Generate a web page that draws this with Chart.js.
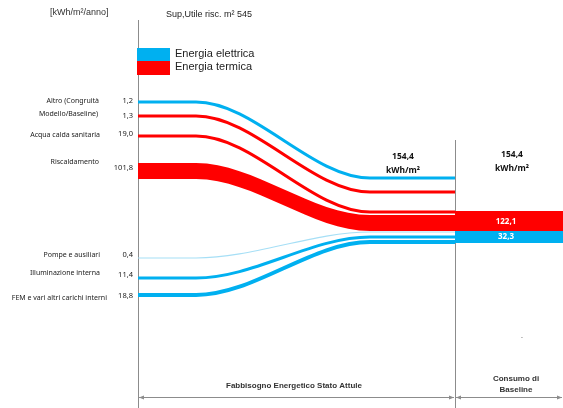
<!DOCTYPE html>
<html>
<head>
    <script src="https://cdn.jsdelivr.net/npm/chart.js"></script>
    <style>
        body { margin: 0; background: #fff; }
        #wrap { width: 563px; height: 408px; position: relative; }
    </style>
</head>
<body>
<div id="wrap"><canvas id="myChart" width="563" height="408"></canvas></div>
<script>
// flussi (kWh/m²/anno)
const flowNames = ['Altro (Congruità', 'Modello/Baseline)', 'Acqua calda sanitaria', 'Riscaldamento',
                   'Pompe e ausiliari', 'Illuminazione interna', 'FEM e vari altri carichi interni'];
const flowValues = [1.2, 1.3, 19.0, 101.8, 0.4, 11.4, 18.8];
const flowType = ['el', 'th', 'th', 'th', 'el', 'el', 'el'];
const totalStato = 154.4;
const baselineValues = [122.1, 32.3]; // termica, elettrica
const baselineTotal = 154.4;
const surface = 545;

// layout del diagramma (coordinate nella scala del grafico)
const xStops = [138, 196, 370, 455];
const flowStartY = [102, 116, 136, 163, 258, 278, 295];
const flowEndY   = [178, 192, 212, 215, 232, 237, 242];
const flowLineW  = [3, 3, 3, 0, 1.2, 3, 4];
const heatBottom = [179, 231];
const blockX = [455, 563];
const blockY = [211, 231, 243];

const BLUE = '#00b0f0';
const RED = '#ff0000';
const LIGHT = '#a6dff6';
const GREY = '#8c8c8c';

function fmt(v) { return v.toFixed(1).replace('.', ','); }

function curve(y0, y1) {
    return [
        { x: xStops[0], y: y0 }, { x: xStops[1], y: y0 },
        { x: xStops[2], y: y1 }, { x: xStops[3], y: y1 }
    ];
}

const datasets = [];
flowNames.forEach((n, i) => {
    if (i === 3) return;
    let col = flowType[i] === 'el' ? BLUE : RED;
    if (i === 4) col = LIGHT;
    datasets.push({
        data: curve(flowStartY[i], flowEndY[i]),
        borderColor: col,
        borderWidth: flowLineW[i],
        fill: false
    });
});
// riscaldamento come banda piena
datasets.push({ data: curve(flowStartY[3], flowEndY[3]), borderWidth: 0, borderColor: RED, fill: false });
datasets.push({ data: curve(heatBottom[0], heatBottom[1]), borderWidth: 0, borderColor: RED, backgroundColor: RED, fill: '-1' });
// consumo di baseline
datasets.push({ data: [{ x: blockX[0], y: blockY[0] }, { x: blockX[1], y: blockY[0] }], borderWidth: 0, cubicInterpolationMode: 'default', fill: false });
datasets.push({ data: [{ x: blockX[0], y: blockY[1] }, { x: blockX[1], y: blockY[1] }], borderWidth: 0, cubicInterpolationMode: 'default', backgroundColor: RED, fill: '-1' });
datasets.push({ data: [{ x: blockX[0], y: blockY[2] }, { x: blockX[1], y: blockY[2] }], borderWidth: 0, cubicInterpolationMode: 'default', backgroundColor: BLUE, fill: '-1' });

function text(ctx, s, x, y, font, color, align) {
    ctx.font = font;
    ctx.fillStyle = color;
    ctx.textAlign = align || 'left';
    ctx.textBaseline = 'middle';
    ctx.fillText(s, x, y);
}

function arrow(ctx, x1, x2, y) {
    ctx.beginPath();
    ctx.moveTo(x1, y); ctx.lineTo(x2, y); ctx.stroke();
    [[x1, 1], [x2, -1]].forEach(([x, d]) => {
        ctx.beginPath();
        ctx.moveTo(x, y);
        ctx.lineTo(x + 5 * d, y - 2);
        ctx.lineTo(x + 5 * d, y + 2);
        ctx.closePath();
        ctx.fill();
    });
}

const decor = {
    id: 'decor',
    beforeDatasetsDraw(chart) {
        const ctx = chart.ctx;
        const sx = chart.scales.x, sy = chart.scales.y;
        ctx.save();
        ctx.strokeStyle = GREY;
        ctx.lineWidth = 1;
        ctx.beginPath();
        ctx.moveTo(sx.getPixelForValue(xStops[0]) + 0.5, sy.getPixelForValue(20));
        ctx.lineTo(sx.getPixelForValue(xStops[0]) + 0.5, sy.getPixelForValue(408));
        ctx.moveTo(sx.getPixelForValue(blockX[0]) + 0.5, sy.getPixelForValue(140));
        ctx.lineTo(sx.getPixelForValue(blockX[0]) + 0.5, sy.getPixelForValue(408));
        ctx.stroke();
        ctx.restore();
    },
    afterDatasetsDraw(chart) {
        const ctx = chart.ctx;
        ctx.save();
        // intestazioni
        text(ctx, '[kWh/m²/anno]', 50, 13, '9px "Liberation Sans"', '#333');
        text(ctx, 'Sup,Utile risc. m² ' + surface, 166, 15, '9px "Liberation Sans"', '#222');
        // legenda
        ctx.fillStyle = BLUE; ctx.fillRect(137, 48, 33, 13);
        ctx.fillStyle = RED; ctx.fillRect(137, 61, 33, 14);
        text(ctx, 'Energia elettrica', 175, 54, '11px "Liberation Sans"', '#222');
        text(ctx, 'Energia termica', 175, 67, '11px "Liberation Sans"', '#222');
        // etichette flussi
        const lf = '7px "Noto Sans"';
        text(ctx, flowNames[0], 99, 101, lf, '#222', 'right');
        text(ctx, flowNames[1], 98, 114, lf, '#222', 'right');
        text(ctx, flowNames[2], 100, 135, lf, '#222', 'right');
        text(ctx, flowNames[3], 99, 162, lf, '#222', 'right');
        text(ctx, flowNames[4], 100, 255, lf, '#222', 'right');
        text(ctx, flowNames[5], 100, 273, lf, '#222', 'right');
        text(ctx, flowNames[6], 107, 298, lf, '#222', 'right');
        const vf = '7.5px "Noto Sans"';
        const vy = [101, 116, 134, 168, 255, 275, 296];
        flowValues.forEach((v, i) => text(ctx, fmt(v), 133, vy[i], vf, '#222', 'right'));
        // totali
        const bf = 'bold 8.5px "Noto Sans"';
        text(ctx, fmt(totalStato), 403, 157, bf, '#111', 'center');
        text(ctx, 'kWh/m²', 403, 171, bf, '#111', 'center');
        text(ctx, fmt(baselineTotal), 512, 155, bf, '#111', 'center');
        text(ctx, 'kWh/m²', 512, 169, bf, '#111', 'center');
        text(ctx, fmt(baselineValues[0]), 506, 222, 'bold 8px "Noto Sans"', '#fff', 'center');
        text(ctx, fmt(baselineValues[1]), 506, 237, 'bold 8px "Noto Sans"', '#fff', 'center');
        text(ctx, '-', 522, 337, '7px "Liberation Sans"', '#777', 'center');
        // asse inferiore
        ctx.strokeStyle = GREY; ctx.fillStyle = GREY; ctx.lineWidth = 1;
        arrow(ctx, 139, 454, 397.5);
        arrow(ctx, 456, 562, 397.5);
        text(ctx, 'Fabbisogno Energetico Stato Attule', 294, 386, 'bold 8px "Liberation Sans"', '#333', 'center');
        text(ctx, 'Consumo di', 516, 379, 'bold 8px "Liberation Sans"', '#333', 'center');
        text(ctx, 'Baseline', 516, 390, 'bold 8px "Liberation Sans"', '#333', 'center');
        ctx.restore();
    }
};

new Chart(document.getElementById('myChart'), {
    type: 'line',
    data: { datasets: datasets },
    options: {
        responsive: false,
        animation: false,
        events: [],
        layout: { padding: 0 },
        elements: {
            point: { radius: 0 },
            line: { cubicInterpolationMode: 'monotone', borderCapStyle: 'butt' }
        },
        plugins: { legend: { display: false }, tooltip: { enabled: false }, title: { display: false } },
        scales: {
            x: { type: 'linear', min: 0, max: 563, display: false },
            y: { type: 'linear', min: 0, max: 408, reverse: true, display: false }
        }
    },
    plugins: [decor]
});
</script>
</body>
</html>
